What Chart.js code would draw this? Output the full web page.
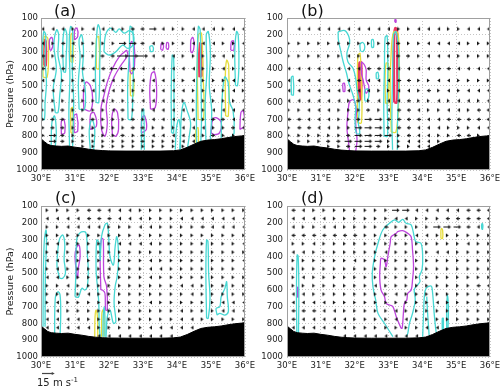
<!DOCTYPE html>
<html><head><meta charset="utf-8">
<script src="https://cdn.jsdelivr.net/npm/chart.js@4.4.1/dist/chart.umd.min.js"></script>
<style>
html,body{margin:0;padding:0;background:#fff;width:500px;height:388px;overflow:hidden;font-family:"DejaVu Sans",sans-serif}
canvas{position:absolute;left:0;top:0}
.lab{position:absolute;font-size:16px;color:#111;line-height:16px;white-space:nowrap}
.key{position:absolute;font-size:10px;color:#222;line-height:10px;white-space:nowrap}
.key sup{font-size:7px;vertical-align:4px;line-height:0}
</style></head><body>
<canvas id="ca" width="520" height="388"></canvas>
<canvas id="cb" width="520" height="388"></canvas>
<canvas id="cc" width="520" height="388"></canvas>
<canvas id="cd" width="520" height="388"></canvas>
<div class="lab" style="left:54px;top:3px">(a)</div>
<div class="lab" style="left:301px;top:3px">(b)</div>
<div class="lab" style="left:55px;top:190px">(c)</div>
<div class="lab" style="left:301px;top:190px">(d)</div>
<div class="key" style="left:37px;top:378px">15 m s<sup>-1</sup></div>
<script>
// ---------------- data ----------------
const lonTicks = [30,31,32,33,34,35,36];
const presTicks = [100,200,300,400,500,600,700,800,900,1000];

// surface (terrain) profile along the section
const terrLon = [30.0,30.1,30.2,30.3,30.45,30.6,30.8,31.0,31.2,31.4,31.6,31.8,32.0,32.5,33.0,33.5,33.9,34.1,34.3,34.5,34.7,34.9,35.1,35.3,35.5,35.7,35.9,36.0];
const terrP   = [815,832,848,855,858,860,858,865,870,877,882,885,887,888,888,888,886,881,866,847,830,823,820,815,808,802,798,795];

// wind grid
const levAB = [165,250,325,400,470,530,590,645,700,750,795,830,860];
const lonAB = [30.05,30.35,30.64,30.94,31.23,31.53,31.82,32.12,32.41,32.71,33.00,33.30,33.59,33.89,34.18,34.48,34.77,35.07,35.36,35.66,35.95];
const levCD = [125,175,225,275,325,375,425,475,525,575,625,675,725,775,825,875];
const lonCD = [30.18,30.48,30.79,31.09,31.40,31.70,32.00,32.31,32.61,32.92,33.22,33.52,33.83,34.13,34.44,34.74,35.04,35.35,35.65,35.96];
// zonal wind class per grid cell (row = level, char = longitude)
const uClass = {'<':-2,'>':2,'l':-5,'r':5,'L':-9,'R':9,'W':-13,'E':13};
const windA = [
"<<<>><< >>rrR<> ><<<><<",
"<>l<>>> >RRr<>> ><<<>><",
"l>rr>>r rEEE<<< >>>l<><",
"lllll<l LLl<<<< <<>><>>",
"<<>>><< <><<<<< ><>>><>",
"><>><<< <>>><<< <>><><>",
">>>>>>< >>><<<< >>>>>><",
">>r>>>> <r>><<< <>><<<<",
"rrr>>r> >>r><<< <<>rr<<",
"rrr>>>> >>rr>>> <<<>>r<",
"rRr>>>> >r>r<<< <<>r>>>",
"rRr>>>> >>>r>>> <<>>>>>",
"rrr>>>> >>>>>>> >>>>>>>"];
const windB = [
".<<<<<< <<<<>>< <<>><<<",
">>>>>>> >>>rr>> <<<<>>>",
">>>>>>< >>>>rr> <<<>>>>",
"<<<<<<< <lll<<< <ll<<<<",
"<<<<<<< l<<<ll> ><<>>>>",
"<<<<<<< <<>><<> l><><<<",
"<<<<<<> r><<<l> ><><<><",
">><<<>> >r><ll< >><<>ll",
"ll<<<>> rRRllll <<lllll",
">ll<<>> RRRrll< <<>>><<",
">>>>>>r RRRR>l< <>>ll>>",
">>>>rrR RRR>><< <>>>>>>",
".>>>>>r RRr>>>< <>>>>>>"];
const windC = [
">>>>ll< <<>>>>> >>>>>>",
"<<<<lll <<<>>>< <<<<<<",
">><<<<> >><<>>> >l<<<<",
">>>>>>> >>>>>>> >>>>>>",
"<<>>>>> <<<<>>> >>>>><",
">>>>>>> >>>>>>> >>>>>>",
"<<>>>>> >>><>>> >>>>><",
"><>>>>< >>><<>> >>>>><",
"<<>>>>> >>><>>> >>>>>>",
">><>>>> >>>>>>< <>>>>>",
">>>><>> >>>>>>> <>>>>>",
"><>>>>> >>><>>> >>><<<",
"<<>>>>> >>>>>>< >>><<<",
"<<<<>>> >>>>>>< <>>>>>",
"<<<<<>> >>><<<< <<<<<<",
"<<<<<<< <<<<<<< <<<<<<"];
const windD = [
"l<>>>>> >>>RR<< <<<lll",
"<<<<>>> >>><<>> >lllll",
"<>><<>> >>l>>>> RRRl<<",
"lllllll >>>>><< >>>>>>",
">><>>>> >>>>>>> >>><>>",
"<<>>>>> >><>>>> <<>>>>",
">>>>>>< >>>>>>> >>>>>>",
">>>>>>> >>>>>>> >>>>>>",
"><>>>>> >>>>>>> >>>>>>",
">>>>>>> ><>>>>> >>>>ll",
"<<>>>>> >>><>>> >>>>>>",
"<<<<>>> >>>>>>> <>>>>>",
"lll<<>> >>><>>> >>>>>>",
"l<<<<<> >>><<>> >>>>>>",
"<<<<<<> >>>>>>< <<<<<<",
"<<<<<<< <<<<<<< <<<<<<"];

// contours: loops of [lon, pressure]
const cyanA = [
[[30.03,700],[30.02,500],[30.04,300],[30.08,180],[30.14,200],[30.12,350],[30.16,480],[30.12,600],[30.1,700],[30.03,700]],
[[30.42,660],[30.36,520],[30.45,400],[30.38,260],[30.46,170],[30.52,200],[30.5,320],[30.6,430],[30.55,560],[30.5,660],[30.42,660]],
[[30.66,420],[30.64,250],[30.7,165],[30.76,200],[30.74,330],[30.72,420],[30.66,420]],
[[30.84,860],[30.82,650],[30.85,450],[30.83,250],[30.87,150],[30.93,170],[30.92,400],[30.96,600],[30.93,860]],
[[31.12,640],[31.1,480],[31.15,330],[31.12,230],[31.2,200],[31.25,300],[31.22,420],[31.3,520],[31.28,640],[31.12,640]],
[[31.62,600],[31.6,400],[31.64,200],[31.68,140],[31.74,180],[31.73,350],[31.7,600],[31.62,600]],
[[31.85,300],[31.9,200],[32.05,160],[32.2,185],[32.3,165],[32.45,190],[32.6,175],[32.72,200],[32.7,260],[32.55,280],[32.4,260],[32.2,300],[32.0,320],[31.85,300]],
[[32.56,700],[32.55,500],[32.6,300],[32.62,150],[32.7,170],[32.72,350],[32.7,550],[32.66,700],[32.56,700]],
[[33.22,300],[33.2,270],[33.28,265],[33.3,295],[33.22,300]],
[[33.84,780],[33.83,550],[33.86,320],[33.9,330],[33.91,560],[33.9,780],[33.84,780]],
[[34.1,880],[34.12,700],[34.2,600],[34.3,650],[34.4,720],[34.36,800],[34.3,880]],
[[34.58,880],[34.57,600],[34.6,300],[34.63,150],[34.68,170],[34.7,400],[34.72,700],[34.7,840]],
[[34.85,830],[34.83,600],[34.88,400],[34.86,200],[34.92,180],[34.98,300],[34.95,500],[35.02,650],[34.98,820]],
[[35.3,810],[35.32,600],[35.4,450],[35.5,480],[35.55,600],[35.65,650],[35.68,780],[35.6,805]],
[[35.72,500],[35.7,300],[35.75,180],[35.8,200],[35.82,380],[35.78,500],[35.72,500]],
[[30.3,860],[30.32,720],[30.4,680],[30.45,780],[30.42,860]],
[[31.45,880],[31.42,760],[31.5,700],[31.58,760],[31.55,880]],
[[33.95,880],[33.98,760],[34.05,700],[34.1,760],[34.08,880]],
[[32.95,880],[32.97,650],[33.02,640],[33.04,880]]];
const magA = [
[[30.26,290],[30.25,230],[30.32,215],[30.35,260],[30.3,290],[30.26,290]],
[[30.6,790],[30.6,710],[30.68,700],[30.7,780],[30.6,790]],
[[30.98,230],[30.99,170],[31.06,160],[31.08,210],[30.98,230]],
[[31.26,640],[31.25,540],[31.32,480],[31.45,500],[31.52,580],[31.45,650],[31.26,640]],
[[32.52,290],[32.3,330],[32.1,400],[31.95,480],[31.85,560],[31.76,640],[31.78,760],[31.88,800],[31.95,720],[31.92,620],[32.02,520],[32.15,450],[32.35,380],[32.55,320],[32.52,290]],
[[32.1,790],[32.08,700],[32.15,640],[32.25,660],[32.28,760],[32.2,800],[32.1,790]],
[[32.62,420],[32.6,300],[32.66,240],[32.74,260],[32.75,380],[32.68,430],[32.62,420]],
[[33.22,640],[33.2,520],[33.25,430],[33.34,420],[33.4,520],[33.36,630],[33.22,640]],
[[33.52,285],[33.54,250],[33.6,255],[33.58,290],[33.52,285]],
[[33.68,280],[33.7,245],[33.75,250],[33.74,285],[33.68,280]],
[[34.4,300],[34.41,230],[34.47,215],[34.5,270],[34.45,305],[34.4,300]],
[[35.0,780],[35.05,700],[35.15,690],[35.3,720],[35.25,780],[35.1,790],[35.0,780]],
[[35.58,290],[35.6,240],[35.66,235],[35.67,290],[35.58,290]],
[[35.85,760],[35.88,660],[35.95,650],[35.98,740],[35.85,760]],
[[32.95,780],[32.97,690],[33.05,680],[33.1,760],[32.95,780]],
[[30.98,780],[30.97,680],[31.05,670],[31.08,770],[30.98,780]],
[[31.44,760],[31.46,670],[31.56,660],[31.63,740],[31.44,760]]];
const yelA = [
[[30.06,450],[30.05,300],[30.1,210],[30.2,220],[30.22,330],[30.18,450],[30.06,450]],
[[30.88,360],[30.88,200],[30.93,190],[30.94,360],[30.88,360]],
[[30.88,780],[30.88,640],[30.93,630],[30.94,780],[30.88,780]],
[[31.63,400],[31.63,220],[31.7,210],[31.71,400],[31.63,400]],
[[32.63,560],[32.63,420],[32.7,410],[32.72,560],[32.63,560]],
[[34.62,700],[34.6,400],[34.63,200],[34.72,190],[34.76,400],[34.78,700],[34.62,700]],
[[35.43,680],[35.42,450],[35.46,350],[35.52,380],[35.51,680],[35.43,680]],
[[34.56,860],[34.56,760],[34.62,750],[34.63,860]]];
const redA = [
[[30.08,380],[30.07,280],[30.1,230],[30.14,240],[30.14,380],[30.08,380]],
[[34.66,450],[34.65,330],[34.68,250],[34.72,260],[34.73,440],[34.66,450]]];

const cyanB = [
[[31.51,181],[31.71,175],[31.83,211],[31.85,250],[31.77,309],[31.80,359],[31.95,398],[32.03,457],[32.07,526],[32.13,585],[32.13,664],[32.11,723],[32.15,783],[32.05,783],[32.01,704],[32.03,625],[31.95,556],[31.83,487],[31.76,427],[31.66,359],[31.58,289],[31.52,230],[31.51,181]],
[[32.17,295],[32.16,255],[32.24,245],[32.3,270],[32.25,298],[32.17,295]],
[[32.5,275],[32.5,230],[32.55,228],[32.56,272],[32.5,275]],
[[32.64,460],[32.64,425],[32.69,422],[32.7,458],[32.64,460]],
[[32.3,590],[32.3,530],[32.38,520],[32.42,560],[32.36,592],[32.3,590]],
[[30.13,556],[30.13,450],[30.18,445],[30.19,555],[30.13,556]],
[[32.87,800],[32.86,600],[32.88,400],[32.9,215],[32.96,205],[32.98,400],[32.96,600],[32.97,800],[32.87,800]],
[[33.12,880],[33.1,700],[33.12,450],[33.15,200],[33.22,180],[33.3,300],[33.3,500],[33.27,700],[33.26,880]]];
const magB = [
[[32.2,359],[32.29,378],[32.34,408],[32.34,467],[32.42,507],[32.34,546],[32.29,507],[32.25,467],[32.2,427],[32.2,359]],
[[31.85,891],[31.81,822],[31.77,744],[31.81,645],[31.85,595],[31.97,585],[32.05,645],[32.03,723],[32.07,822],[32.03,891]],
[[31.66,536],[31.65,490],[31.7,487],[31.71,535],[31.66,536]],
[[33.19,125],[33.19,110],[33.22,110],[33.22,125],[33.19,125]]];
const yelB = [
[[32.08,720],[32.08,480],[32.1,320],[32.16,310],[32.2,480],[32.2,720],[32.08,720]],
[[32.91,605],[32.9,450],[32.93,368],[32.99,370],[33.01,500],[32.98,605],[32.91,605]],
[[33.08,775],[33.05,500],[33.08,300],[33.15,183],[33.28,190],[33.32,400],[33.3,600],[33.22,775],[33.08,775]]];
const redB = [
[[32.13,580],[32.12,450],[32.14,365],[32.19,362],[32.2,460],[32.18,580],[32.13,580]],
[[33.17,600],[33.16,400],[33.17,200],[33.2,160],[33.25,170],[33.26,400],[33.25,600],[33.17,600]]];

const cyanC = [
[[30.06,819],[30.07,500],[30.1,300],[30.15,243],[30.16,330],[30.13,500],[30.12,819]],
[[30.55,531],[30.47,460],[30.49,380],[30.54,300],[30.64,273],[30.7,330],[30.68,420],[30.72,500],[30.64,531],[30.55,531]],
[[30.4,879],[30.42,650],[30.5,611],[30.56,630],[30.58,740],[30.56,879]],
[[31.0,640],[31.03,481],[31.05,303],[31.15,259],[31.32,259],[31.36,382],[31.39,481],[31.36,581],[31.29,601],[31.2,591],[31.1,644],[31.0,640]],
[[31.74,889],[31.71,799],[31.70,680],[31.66,581],[31.62,481],[31.64,303],[31.71,322],[31.74,422],[31.78,283],[31.88,213],[31.95,203],[31.99,283],[32.03,402],[32.13,452],[32.18,343],[32.23,283],[32.28,402],[32.24,521],[32.18,581],[32.15,680],[32.20,790],[32.13,799],[32.03,720],[31.95,760],[31.91,889]],
[[34.87,769],[34.85,500],[34.87,303],[34.91,310],[34.93,500],[34.97,650],[34.92,769],[34.87,769]],
[[35.18,750],[35.15,710],[35.26,700],[35.3,640],[35.41,591],[35.46,551],[35.48,640],[35.51,730],[35.41,750],[35.26,740],[35.18,750]],
[[31.82,880],[31.83,760],[31.86,700],[31.88,760],[31.88,880]]];
const magC = [
[[31.06,531],[31.0,400],[31.04,350],[31.12,332],[31.15,400],[31.1,470],[31.08,531]],
[[31.76,600],[31.74,402],[31.78,293],[31.83,300],[31.85,521],[31.93,580],[31.95,720],[31.9,720],[31.88,620],[31.8,600],[31.76,600]]];
const yelC = [
[[31.58,880],[31.59,760],[31.62,720],[31.66,760],[31.67,880]],
[[31.78,880],[31.79,740],[31.82,720],[31.85,760],[31.85,880]]];
const redC = [];

const cyanD = [
[[33.13,879],[32.88,799],[32.69,740],[32.62,660],[32.54,581],[32.52,501],[32.59,402],[32.69,322],[32.83,243],[33.03,203],[33.18,183],[33.30,197],[33.42,180],[33.52,203],[33.67,213],[33.76,283],[33.81,313],[33.96,322],[34.01,402],[33.99,481],[33.91,521],[33.93,551],[33.81,581],[33.76,601],[33.79,660],[33.71,740],[33.62,799],[33.57,859],[33.52,879]],
[[34.01,879],[34.04,720],[34.06,640],[34.11,591],[34.26,577],[34.30,611],[34.35,740],[34.40,839],[34.43,869]],
[[34.13,640],[34.15,720],[34.18,810],[34.2,869]],
[[34.72,830],[34.72,700],[34.74,630],[34.77,700],[34.76,830]],
[[34.59,849],[34.59,770],[34.62,769],[34.62,849]],
[[35.76,239],[35.75,215],[35.77,203],[35.79,215],[35.78,239],[35.76,239]],
[[30.29,859],[30.28,600],[30.3,392],[30.33,400],[30.35,600],[30.34,859]]];
const magD = [
[[33.37,829],[33.23,760],[33.13,700],[33.03,690],[32.93,680],[32.88,640],[32.78,601],[32.74,521],[32.76,442],[32.78,412],[32.88,422],[32.93,462],[32.98,402],[33.05,322],[33.08,283],[33.23,263],[33.27,253],[33.42,247],[33.57,263],[33.67,283],[33.71,362],[33.74,462],[33.71,541],[33.67,601],[33.57,620],[33.54,660],[33.47,680],[33.44,740],[33.42,799],[33.40,829],[33.37,829]],
[[30.31,644],[30.31,584],[30.33,584],[30.33,644],[30.31,644]]];
const yelD = [
[[34.55,293],[34.55,245],[34.57,233],[34.6,245],[34.6,293],[34.55,293]]];
const redD = [];

// ---------------- drawing ----------------
Chart.defaults.font.family = '"DejaVu Sans", sans-serif';
Chart.defaults.color = '#222';
const PX_PER_MS = 0.85;
const COL = {cyan:'#47d7d3', mag:'#bd45dc', yel:'#e6dc3c', red:'#ea3562'};

function surfAt(lon){
  for (let i=0;i<terrLon.length-1;i++){
    if (lon>=terrLon[i] && lon<=terrLon[i+1]){
      const t=(lon-terrLon[i])/(terrLon[i+1]-terrLon[i]);
      return terrP[i]+t*(terrP[i+1]-terrP[i]);
    }
  }
  return terrP[terrP.length-1];
}
const imgCache = {};
function arrowImg(u){
  if (imgCache[u]) return imgCache[u];
  const len = Math.max(2.8, Math.abs(u)*PX_PER_MS);
  const w = Math.ceil(len)+2, h = 5;
  const c = document.createElement('canvas'); c.width=w; c.height=h;
  const g = c.getContext('2d');
  g.fillStyle = g.strokeStyle = '#111';
  if (u<0){ g.translate(w,0); g.scale(-1,1); }
  const x0=1, x1=1+len, hy=2.5;
  g.lineWidth=1;
  if (len>3.5){ g.beginPath(); g.moveTo(x0,hy); g.lineTo(x1-2.5,hy); g.stroke(); }
  g.beginPath(); g.moveTo(x1,hy); g.lineTo(x1-2.8,hy-1.9); g.lineTo(x1-2.8,hy+1.9); g.closePath(); g.fill();
  imgCache[u]=c; return c;
}
function windPoints(rows, levs, lons){
  const pts=[];
  rows.forEach((r,i)=>{
    const s=r.replace(/ /g,'');
    for (let j=0;j<s.length && j<lons.length;j++){
      const u=uClass[s[j]];
      if (u===undefined) continue;
      if (levs[i] > surfAt(lons[j])-4) continue;
      pts.push({x:lons[j], y:levs[i], u:u});
    }
  });
  return pts;
}
const frame = {id:'frame', afterDatasetsDraw(ch){
  const {ctx, chartArea:a} = ch; ctx.save(); ctx.strokeStyle='#a0a0a0'; ctx.lineWidth=1;
  ctx.strokeRect(Math.round(a.left)+0.5, Math.round(a.top)+0.5, Math.round(a.right-a.left)-1, Math.round(a.bottom-a.top)-1);
  ctx.restore(); }};
const keyArrow = {id:'keyArrow', afterDraw(ch){
  const ctx=ch.ctx, x0=ch.scales.x.getPixelForValue(30)+1, y=ch.chartArea.bottom+16.5, L=15*PX_PER_MS;
  ctx.save(); ctx.strokeStyle=ctx.fillStyle='#444'; ctx.lineWidth=1.2;
  ctx.beginPath(); ctx.moveTo(x0,y); ctx.lineTo(x0+L-2,y); ctx.stroke();
  ctx.beginPath(); ctx.moveTo(x0+L,y); ctx.lineTo(x0+L-3,y-1.6); ctx.lineTo(x0+L-3,y+1.6); ctx.closePath(); ctx.fill();
  ctx.restore(); }};

function contourSets(list, color, width){
  return list.map(loop=>({
    type:'scatter', showLine:true, data:loop.map(p=>({x:p[0],y:p[1]})),
    borderColor:color, borderWidth:width, pointRadius:0, tension:0.35, fill:false, order:3, clip:0
  }));
}

function panel(id, area, showTitle, wind, levs, lons, cont, extra){
  const [L,T,R,B] = area;
  const yW = showTitle ? 41 : 38, xH = 16;
  const datasets = [
    {type:'line', data:terrLon.map((x,i)=>({x:x,y:terrP[i]})), borderColor:'#000', backgroundColor:'#000',
     borderWidth:1, pointRadius:0, fill:{value:1000}, order:1, clip:0, tension:0},
    {type:'scatter', data:windPoints(wind, levs, lons), pointStyle:(c)=>c.raw?arrowImg(c.raw.u):'circle',
     pointRadius:2, order:2, clip:0},
    ...contourSets(cont[0], COL.cyan, 1.3),
    ...contourSets(cont[1], COL.mag, 1.3),
    ...contourSets(cont[2], COL.yel, 1.3),
    ...contourSets(cont[3], COL.red, 2.4)
  ];
  return new Chart(document.getElementById(id), {
    type:'scatter',
    data:{datasets},
    options:{
      responsive:false, animation:false, events:[],
      layout:{padding:{left:L-yW, top:T, right:520-R, bottom:388-B-xH}},
      plugins:{legend:{display:false}, tooltip:{enabled:false}},
      scales:{
        x:{type:'linear', min:30, max:36, z:1,
           afterBuildTicks:(s)=>{s.ticks=lonTicks.map(v=>({value:v}));},
           afterFit:(s)=>{s.height=xH;},
           ticks:{callback:(v)=>String(v)+'°E', font:{size:8.5}, padding:4, maxRotation:0, autoSkip:false, color:'#222'},
           grid:{color:'#c4c4c4', lineWidth:1, drawTicks:false}, border:{display:false, dash:[1,2]}},
        y:{type:'linear', min:100, max:1000, reverse:true, z:1,
           afterBuildTicks:(s)=>{s.ticks=presTicks.map(v=>({value:v}));},
           afterFit:(s)=>{s.width=yW;},
           ticks:{callback:(v)=>String(v), font:{size:8.5}, padding:showTitle?3:4, color:'#222'},
           grid:{color:'#c4c4c4', lineWidth:1, drawTicks:false}, border:{display:false, dash:[1,2]},
           title:{display:showTitle, text:'Pressure (hPa)', font:{size:9.5}, color:'#222', padding:{top:5,bottom:0}}}
      }
    },
    plugins: extra ? [frame, extra] : [frame]
  });
}

panel('ca', [41,18,245,170], true,  windA, levAB, lonAB, [cyanA,magA,yelA,redA]);
panel('cb', [287,18,490,170], false, windB, levAB, lonAB, [cyanB,magB,yelB,redB]);
panel('cc', [41,206,245,357], true,  windC, levCD, lonCD, [cyanC,magC,yelC,redC], keyArrow);
panel('cd', [287,206,490,357], false, windD, levCD, lonCD, [cyanD,magD,yelD,redD]);
</script>
</body></html>
